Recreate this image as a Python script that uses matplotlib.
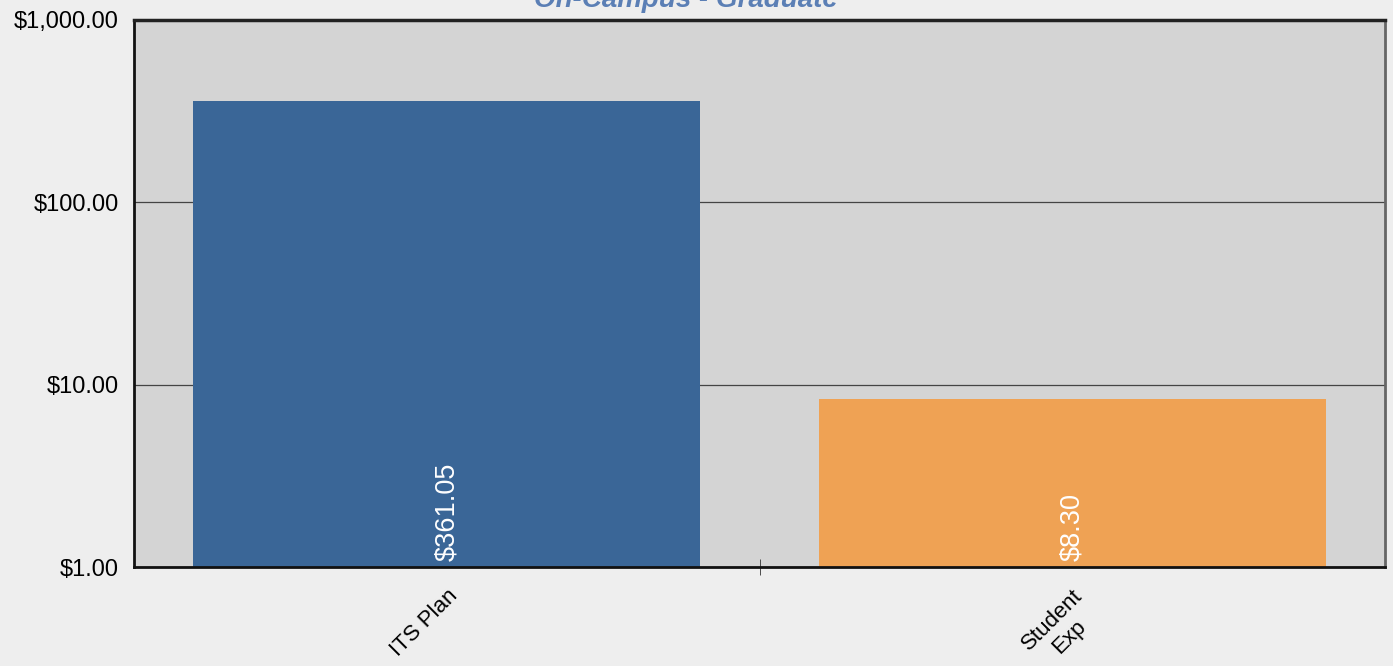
import matplotlib

matplotlib.use("Agg")
import matplotlib.pyplot as plt
from matplotlib.ticker import FuncFormatter, FixedLocator


categories = ["ITS Plan", "Student\nExp"]
values = [361.05, 8.30]
bar_colors = ["#3a6697", "#efa254"]
title = "On-Campus - Graduate"

FONT = ["Liberation Sans", "DejaVu Sans"]
plt.rcParams["font.family"] = FONT

fig = plt.figure(figsize=(13.93, 6.66), dpi=100, facecolor="#eeeeee")
ax = fig.add_axes([0.0962, 0.1486, 0.8981, 0.8214])
ax.set_facecolor("#d4d4d4")

x = list(range(len(categories)))
bars = ax.bar(x, values, width=0.81, color=bar_colors, zorder=2)

ax.set_yscale("log")
ax.set_ylim(1, 1000)
ax.set_xlim(-0.5, 1.5)
ax.yaxis.set_major_locator(FixedLocator([1, 10, 100, 1000]))
ax.yaxis.set_minor_locator(FixedLocator([]))
ax.yaxis.set_major_formatter(FuncFormatter(lambda v, p: f"${v:,.2f}"))
ax.grid(axis="y", color="#444444", linewidth=0.9, zorder=1)
ax.tick_params(axis="y", length=0, labelsize=17, pad=11)

# etiquetas de categoria giradas 45 grados
ax.set_xticks(x)
ax.set_xticklabels(categories, rotation=45, ha="right", rotation_mode="anchor",
                   multialignment="center", fontsize=16)
ax.tick_params(axis="x", length=0, pad=13)
ax.set_xticks([0.5], minor=True)
ax.tick_params(axis="x", which="minor", length=12, direction="inout", color="#333333")

for bar, value in zip(bars, values):
    ax.annotate(f"${value:.2f}", (bar.get_x() + bar.get_width() / 2, 1),
                xytext=(0, 4), textcoords="offset points", ha="center", va="bottom",
                rotation=90, color="white", fontsize=19.5, zorder=3)

ax.spines["left"].set_linewidth(2)
ax.spines["left"].set_color("#111111")
ax.spines["bottom"].set_linewidth(2)
ax.spines["bottom"].set_color("#111111")
ax.spines["top"].set_linewidth(2.5)
ax.spines["top"].set_color("#222222")
ax.spines["right"].set_linewidth(2)
ax.spines["right"].set_color("#666666")

fig.text(686 / 1393, 1.0, title, ha="center", va="center", fontsize=20,
         fontweight="bold", fontstyle="italic", color="#5b7fb5")

fig.savefig("out.png", dpi=100, facecolor=fig.get_facecolor())
